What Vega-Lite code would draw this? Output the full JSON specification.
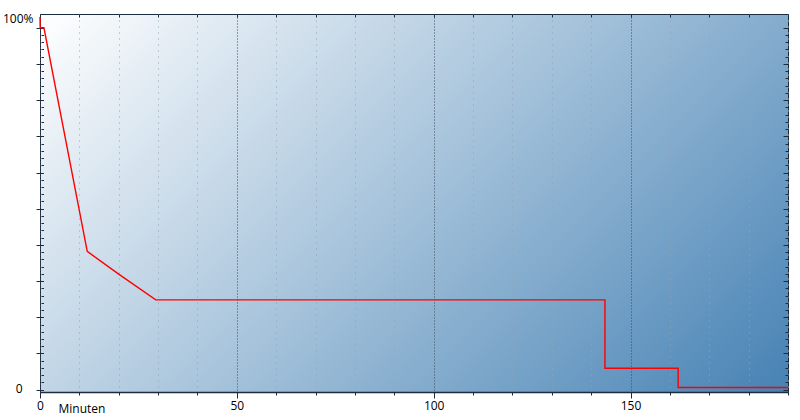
{
  "$schema": "https://vega.github.io/schema/vega-lite/v6.json",
  "width": 748,
  "height": 378,
  "autosize": {"type": "none"},
  "padding": {"left": 40, "top": 14, "right": 12, "bottom": 28},
  "background": "white",
  "config": {
    "view": {
      "fill": {
        "gradient": "linear",
        "x1": 0, "y1": 0, "x2": 1.2, "y2": 0.606,
        "stops": [
          {"offset": 0, "color": "#ffffff"},
          {"offset": 1, "color": "#4682b4"}
        ]
      },
      "stroke": "#1c2c3c",
      "strokeWidth": 1
    },
    "axis": {
      "labelFont": "Open Sans",
      "labelFontSize": 12,
      "labelColor": "#000000",
      "titleFont": "Open Sans",
      "domainColor": "#1c2c3c",
      "tickColor": "#1c2c3c",
      "labelOverlap": false,
      "labelFlush": false
    }
  },
  "resolve": {
    "scale": {"x": "independent", "y": "independent"},
    "axis": {"x": "independent", "y": "independent"}
  },
  "layer": [
    {
      "data": {
        "values": [
          {"i": 1, "min": 0, "pct": 103},
          {"i": 2, "min": 0.05, "pct": 100},
          {"i": 3, "min": 1, "pct": 100},
          {"i": 4, "min": 12, "pct": 38.2},
          {"i": 5, "min": 19.9, "pct": 32.0},
          {"i": 6, "min": 29.4, "pct": 24.8},
          {"i": 7, "min": 143.5, "pct": 24.8},
          {"i": 8, "min": 143.5, "pct": 5.9},
          {"i": 9, "min": 162.1, "pct": 5.9},
          {"i": 10, "min": 162.1, "pct": 0.6},
          {"i": 11, "min": 190, "pct": 0.6}
        ]
      },
      "mark": {"type": "line", "color": "#ff0000", "strokeWidth": 1.4},
      "encoding": {
        "order": {"field": "i", "type": "quantitative"},
        "x": {
          "field": "min",
          "type": "quantitative",
          "scale": {"domain": [0, 190], "nice": false, "zero": false},
          "axis": {
            "orient": "bottom",
            "values": [0, 10, 20, 30, 40, 50, 60, 70, 80, 90, 100, 110, 120, 130, 140, 150, 160, 170, 180, 190],
            "tickSize": {"condition": {"test": "datum.value % 50 === 0", "value": 6}, "value": 3},
            "labelExpr": "datum.value % 50 === 0 ? datum.label : ''",
            "labelPadding": 2,
            "domainWidth": 1.5,
            "grid": true,
            "gridDash": {"condition": {"test": "datum.value % 50 === 0", "value": [1, 2]}, "value": [1, 5]},
            "gridColor": {"condition": {"test": "datum.value % 50 === 0", "value": "#3c4c5c"}, "value": "#95a3b0"},
            "title": "Minuten",
            "titleX": 18,
            "titleY": 16,
            "titleAlign": "left",
            "titleBaseline": "middle",
            "titleFontWeight": "normal",
            "titleFontSize": 12,
            "titleColor": "#000000"
          }
        },
        "y": {
          "field": "pct",
          "type": "quantitative",
          "scale": {"domain": [-0.65, 103.8], "nice": false, "zero": false},
          "axis": {
            "orient": "left",
            "values": [0, 2, 4, 6, 8, 10, 12, 14, 16, 18, 20, 22, 24, 26, 28, 30, 32, 34, 36, 38, 40, 42, 44, 46, 48, 50, 52, 54, 56, 58, 60, 62, 64, 66, 68, 70, 72, 74, 76, 78, 80, 82, 84, 86, 88, 90, 92, 94, 96, 98, 100],
            "offset": -3.5,
            "domain": false,
            "grid": false,
            "tickSize": {"condition": {"test": "datum.value % 10 === 0", "value": 7.5}, "value": 2.5},
            "labelExpr": "datum.value === 0 ? '0' : datum.value === 100 ? '100%' : ''",
            "labelPadding": {"condition": {"test": "datum.value === 0", "value": 14}, "value": 3},
            "labelOffset": {"condition": {"test": "datum.value === 100", "value": -9}, "value": -1},
            "title": null
          }
        }
      }
    },
    {
      "mark": {"type": "rule", "color": "#22364a", "strokeWidth": 1.2},
      "encoding": {
        "x": {
          "datum": 0,
          "type": "quantitative",
          "scale": {"domain": [0, 190], "nice": false, "zero": false},
          "axis": {
            "orient": "top",
            "values": [0, 10, 20, 30, 40, 50, 60, 70, 80, 90, 100, 110, 120, 130, 140, 150, 160, 170, 180, 190],
            "labels": false,
            "domain": false,
            "grid": false,
            "tickSize": -3,
            "title": null
          }
        },
        "x2": {"datum": 190},
        "y": {
          "datum": 0,
          "type": "quantitative",
          "scale": {"domain": [-0.65, 103.8], "nice": false, "zero": false},
          "axis": {
            "orient": "right",
            "values": [0, 2, 4, 6, 8, 10, 12, 14, 16, 18, 20, 22, 24, 26, 28, 30, 32, 34, 36, 38, 40, 42, 44, 46, 48, 50, 52, 54, 56, 58, 60, 62, 64, 66, 68, 70, 72, 74, 76, 78, 80, 82, 84, 86, 88, 90, 92, 94, 96, 98, 100],
            "labels": false,
            "domain": false,
            "grid": false,
            "tickSize": {"condition": {"test": "datum.value % 10 === 0", "value": -5}, "value": -3},
            "title": null
          }
        }
      }
    },
    {
      "mark": {"type": "rule", "color": "#8b0000", "strokeWidth": 2},
      "encoding": {
        "x": {
          "datum": 0,
          "type": "quantitative",
          "scale": {"domain": [0, 190], "nice": false, "zero": false},
          "axis": null
        }
      }
    }
  ]
}
